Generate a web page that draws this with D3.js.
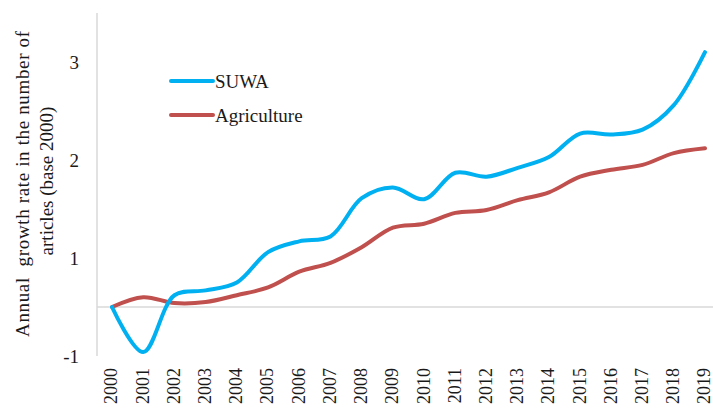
<!DOCTYPE html>
<html>
<head>
<meta charset="utf-8">
<script src="https://cdn.jsdelivr.net/npm/d3@7"></script>
<style>
  body { margin: 0; background: #fff; }
  text { font-family: "Liberation Serif", "Times New Roman", serif; fill: #1a1a1a; }
</style>
</head>
<body>
<svg id="chart" width="713" height="408"></svg>
<script>
  // data
  var years = ['2000', '2001', '2002', '2003', '2004', '2005', '2006', '2007', '2008', '2009',
               '2010', '2011', '2012', '2013', '2014', '2015', '2016', '2017', '2018', '2019'];
  var suwa = [0.5, 0.04, 0.62, 0.67, 0.75, 1.06, 1.17, 1.22, 1.61, 1.72,
              1.60, 1.87, 1.83, 1.92, 2.03, 2.27, 2.26, 2.31, 2.56, 3.10];
  var agriculture = [0.5, 0.60, 0.54, 0.55, 0.62, 0.70, 0.86, 0.95, 1.11, 1.31,
                     1.35, 1.46, 1.49, 1.59, 1.67, 1.83, 1.90, 1.95, 2.07, 2.12];
  var yTicks = [3, 2, 1, 0];
  var yTickLabels = ['3', '2', '1', '-1'];
  var baseline = 0.5;

  var svg = d3.select('#chart');

  var x = d3.scalePoint().domain(years).range([112, 705]);
  var y = d3.scaleLinear().domain([0, 3.5]).range([356, 13]);

  // y axis (line only, labels on the left)
  var yAxis = svg.append('g')
      .attr('class', 'y axis')
      .attr('transform', 'translate(97,0)')
      .call(d3.axisLeft(y).tickValues(yTicks).tickSize(0).tickPadding(18)
        .tickFormat(function (d, i) { return yTickLabels[i]; }));
  yAxis.select('.domain').attr('stroke', '#d9d9d9').attr('stroke-width', 1.5)
      .attr('d', 'M0,' + y(3.5) + 'V' + y(0));
  yAxis.selectAll('text').style('font-size', '19px').attr('fill', '#1a1a1a')
      .attr('font-family', null);

  // horizontal axis at the base value
  svg.append('line')
      .attr('x1', 97).attr('x2', 713)
      .attr('y1', y(baseline)).attr('y2', y(baseline))
      .attr('stroke', '#d9d9d9').attr('stroke-width', 1.5);

  // year labels, rotated
  svg.append('g').selectAll('text')
      .data(years)
    .enter().append('text')
      .attr('transform', function (d) { return 'translate(' + x(d) + ',368) rotate(-90)'; })
      .attr('dy', '0.3em')
      .style('text-anchor', 'end')
      .style('font-size', '18px')
      .text(function (d) { return d; });

  // y axis title
  var title = svg.append('text')
      .attr('transform', 'rotate(-90)')
      .style('text-anchor', 'middle')
      .style('font-size', '19px')
      .style('white-space', 'pre');
  title.append('tspan').attr('x', -184).attr('y', 29)
      .attr('textLength', 306).attr('lengthAdjust', 'spacing')
      .text('Annual  growth rate in the number of');
  title.append('tspan').attr('x', -181).attr('y', 53).text('articles (base 2000)');

  var line = d3.line()
      .x(function (d, i) { return x(years[i]); })
      .y(function (d) { return y(d); })
      .curve(d3.curveCatmullRom.alpha(0.5));

  var series = [
    {name: 'SUWA', values: suwa, color: '#00b0f0'},
    {name: 'Agriculture', values: agriculture, color: '#c0504d'}
  ];

  svg.selectAll('.line')
      .data(series.slice().reverse())
    .enter().append('path')
      .attr('class', 'line')
      .attr('fill', 'none')
      .attr('stroke', function (d) { return d.color; })
      .attr('stroke-width', 4)
      .attr('stroke-linecap', 'round')
      .attr('d', function (d) { return line(d.values); });

  // legend
  var legend = svg.append('g').attr('transform', 'translate(171,81)');
  var item = legend.selectAll('g')
      .data(series)
    .enter().append('g')
      .attr('transform', function (d, i) { return 'translate(0,' + (i * 34) + ')'; });
  item.append('line')
      .attr('x1', 0).attr('x2', 42)
      .attr('stroke', function (d) { return d.color; })
      .attr('stroke-width', 4)
      .attr('stroke-linecap', 'round');
  item.append('text')
      .attr('x', 44).attr('dy', '0.35em')
      .style('font-size', '19px')
      .text(function (d) { return d.name; });
</script>
</body>
</html>
